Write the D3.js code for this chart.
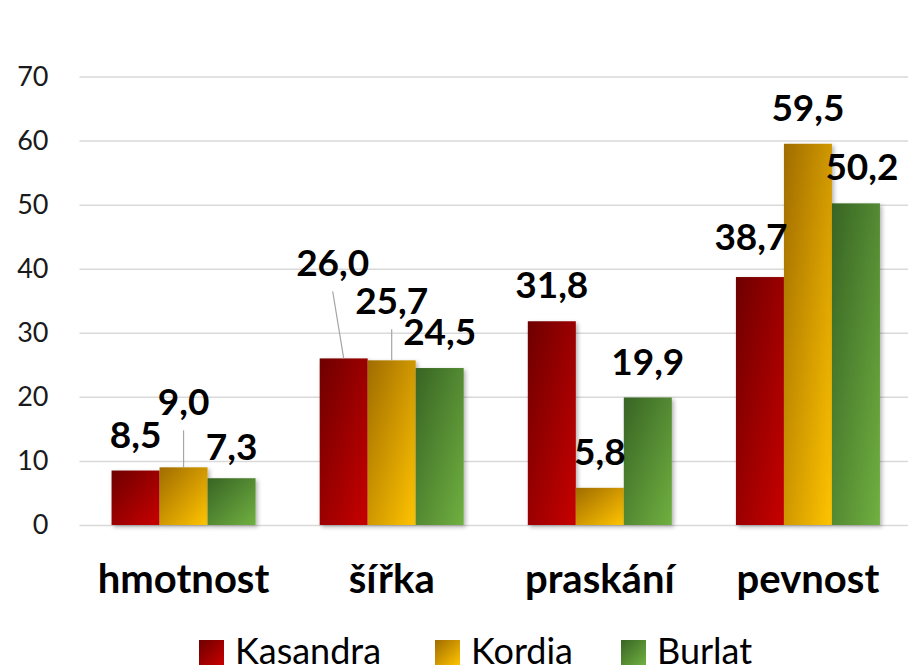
<!DOCTYPE html>
<html>
<head>
<meta charset="utf-8">
<script src="https://cdn.jsdelivr.net/npm/d3@7"></script>
<style>
  body { margin: 0; background: #fff; }
  svg { display: block; font-family: Lato, "Open Sans", sans-serif; }
</style>
</head>
<body>
<div class="card"></div>
<script>
// data
var categories = ["hmotnost", "šířka", "praskání", "pevnost"];
var seriesNames = ["Kasandra", "Kordia", "Burlat"];
var kasandra = [8.5, 26.0, 31.8, 38.7];
var kordia = [9.0, 25.7, 5.8, 59.5];
var burlat = [7.3, 24.5, 19.9, 50.2];
var yTicks = [0, 10, 20, 30, 40, 50, 60, 70];

// label nudges (px), like the hand-moved labels in the original
var nudges = [
  [[0, 0], [-11, -59], [0, 0], [-9, -4]],
  [[0, -29], [0, -23], [0, 0], [0, 0]],
  [[0, 5], [0, 0], [0, 1], [6, 0]]
];

var colors = [
  ["#6e0000", "#c80000"],
  ["#a06c00", "#ffc400"],
  ["#386424", "#70b040"]
];

var W = 908, H = 671;
var margin = {top: 76.5, left: 79.5, bottom: 146};
var plotRight = 912;

var svg = d3.select('.card')
  .append('svg')
  .attr('width', W)
  .attr('height', H);

var defs = svg.append('defs');
seriesNames.forEach(function(s, i) {
  var g = defs.append('linearGradient')
    .attr('id', 'grad' + i)
    .attr('x1', 0).attr('y1', 0).attr('x2', 1).attr('y2', 1);
  g.append('stop').attr('offset', '0%').attr('stop-color', colors[i][0]);
  g.append('stop').attr('offset', '100%').attr('stop-color', colors[i][1]);
});
var f = defs.append('filter').attr('id', 'shadow')
  .attr('x', '-20%').attr('y', '-20%').attr('width', '150%').attr('height', '150%');
f.append('feDropShadow').attr('dx', 2).attr('dy', 2).attr('stdDeviation', 2)
  .attr('flood-color', '#000').attr('flood-opacity', 0.3);

var y = d3.scaleLinear().domain([0, 70]).range([525, margin.top]);
var x0 = d3.scaleBand().domain(categories).range([margin.left, plotRight]).paddingInner(0).paddingOuter(0);
var x1 = d3.scaleBand().domain(seriesNames).range([0, 144]);

// gridlines
var grid = svg.append('g')
  .attr('transform', 'translate(' + margin.left + ',0)')
  .call(d3.axisLeft(y).tickValues(yTicks).tickSize(-(plotRight - margin.left)).tickFormat(''));
grid.select('.domain').remove();
grid.selectAll('line').attr('stroke', '#d9d9d9').attr('stroke-width', 1.5);

// y axis labels
var yAxis = svg.append('g')
  .attr('transform', 'translate(' + margin.left + ',0)')
  .call(d3.axisLeft(y).tickValues(yTicks).tickSize(0).tickPadding(31));
yAxis.select('.domain').remove();
yAxis.selectAll('text')
  .attr('font-family', 'Lato, sans-serif')
  .attr('font-size', 27)
  .attr('fill', '#1a1a1a');

// x axis labels
var xAxis = svg.append('g')
  .attr('transform', 'translate(0,525)')
  .call(d3.axisBottom(x0).tickSize(0));
xAxis.select('.domain').remove();
xAxis.selectAll('text')
  .attr('y', 68).attr('dy', 0)
  .attr('font-family', 'Lato, sans-serif')
  .attr('font-weight', 'bold')
  .attr('font-size', 40)
  .attr('fill', '#000');

var allSeries = [kasandra, kordia, burlat];
var bars = [];
allSeries.forEach(function(vals, si) {
  vals.forEach(function(v, ci) {
    var cx = x0(categories[ci]) + x0.bandwidth() / 2 - 72 + x1(seriesNames[si]);
    bars.push({s: si, c: ci, v: v, x: cx, w: x1.bandwidth()});
  });
});

svg.append('g').selectAll('rect')
  .data(bars)
  .enter()
  .append('rect')
  .attr('x', d => d.x)
  .attr('y', d => y(d.v))
  .attr('width', d => d.w)
  .attr('height', d => y(0) - y(d.v))
  .attr('fill', d => 'url(#grad' + d.s + ')')
  .attr('filter', 'url(#shadow)');

// data labels
var lab = bars.map(function(d) {
  var n = nudges[d.s][d.c];
  var bx = d.x + d.w / 2, by = y(d.v);
  return {d: d, bx: bx, by: by, lx: bx + n[0], ly: by - 23 + n[1], lead: n[1] < -20};
});

svg.append('g').selectAll('line')
  .data(lab.filter(l => l.lead))
  .enter()
  .append('line')
  .attr('x1', l => l.lx)
  .attr('y1', l => l.ly + 15)
  .attr('x2', l => l.bx)
  .attr('y2', l => l.by)
  .attr('stroke', '#a6a6a6')
  .attr('stroke-width', 1.2);

svg.append('g').selectAll('text')
  .data(lab)
  .enter()
  .append('text')
  .attr('x', l => l.lx)
  .attr('y', l => l.ly)
  .attr('text-anchor', 'middle')
  .attr('font-weight', 'bold')
  .attr('font-size', 37)
  .attr('fill', '#000')
  .text(l => d3.format('.1f')(l.d.v).replace('.', ','));

// legend
var legend = svg.append('g');
var legendX = [199, 435, 621];
seriesNames.forEach(function(s, i) {
  legend.append('rect')
    .attr('x', legendX[i]).attr('y', 640)
    .attr('width', 25).attr('height', 25)
    .attr('fill', 'url(#grad' + i + ')');
  legend.append('text')
    .attr('x', legendX[i] + 36).attr('y', 664)
    .attr('font-size', 36)
    .attr('fill', '#000')
    .text(s);
});
</script>
</body>
</html>
